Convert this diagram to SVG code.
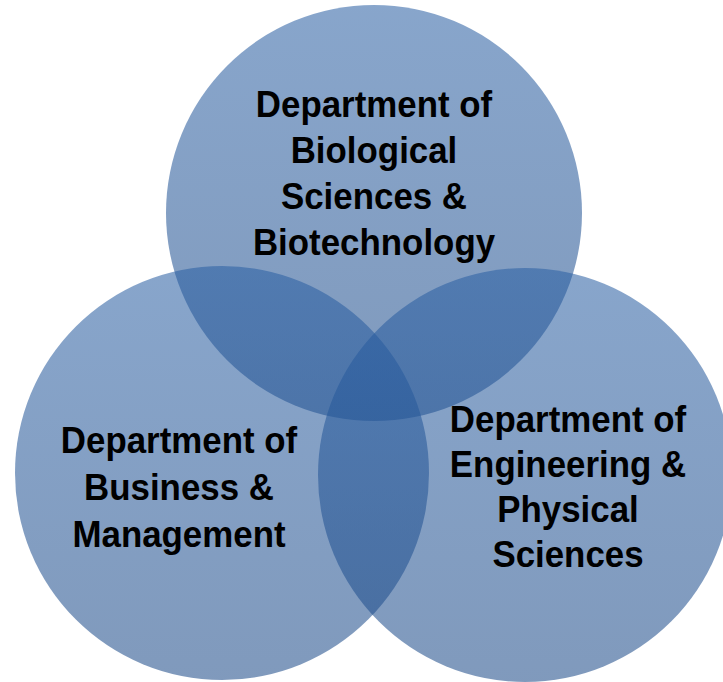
<svg xmlns="http://www.w3.org/2000/svg" width="723" height="682" viewBox="0 0 723 682">
<defs>
<linearGradient id="g" x1="0" y1="0" x2="0" y2="1">
<stop offset="0" stop-color="#2a5fa3"/>
<stop offset="1" stop-color="#1c4a88"/>
</linearGradient>
<style>
.c{fill:url(#g);fill-opacity:0.56}
.t{font-family:"Liberation Sans",Arial,Helvetica,sans-serif;font-weight:bold;font-size:37.5px;fill:#000;text-anchor:middle}
</style>
</defs>
<rect width="723" height="682" fill="#ffffff"/>
<g id="connectors"></g>
<g id="node-bio">
<circle class="c" cx="374" cy="213" r="208"/>
</g>
<g id="node-bus">
<circle class="c" cx="222" cy="473" r="207"/>
</g>
<g id="node-eng">
<circle class="c" cx="525" cy="475" r="207"/>
</g>
<g id="label-bio" transform="translate(374,0) scale(0.93,1)">
<text class="t" x="0" y="117">Department of</text>
<text class="t" x="0" y="163">Biological</text>
<text class="t" x="0" y="209">Sciences &amp;</text>
<text class="t" x="0" y="255">Biotechnology</text>
</g>
<g id="label-bus" transform="translate(179,0) scale(0.93,1)">
<text class="t" x="0" y="453">Department of</text>
<text class="t" x="0" y="500">Business &amp;</text>
<text class="t" x="0" y="547">Management</text>
</g>
<g id="label-eng" transform="translate(568,0) scale(0.93,1)">
<text class="t" x="0" y="432">Department of</text>
<text class="t" x="0" y="477">Engineering &amp;</text>
<text class="t" x="0" y="522">Physical</text>
<text class="t" x="0" y="567">Sciences</text>
</g>
</svg>
